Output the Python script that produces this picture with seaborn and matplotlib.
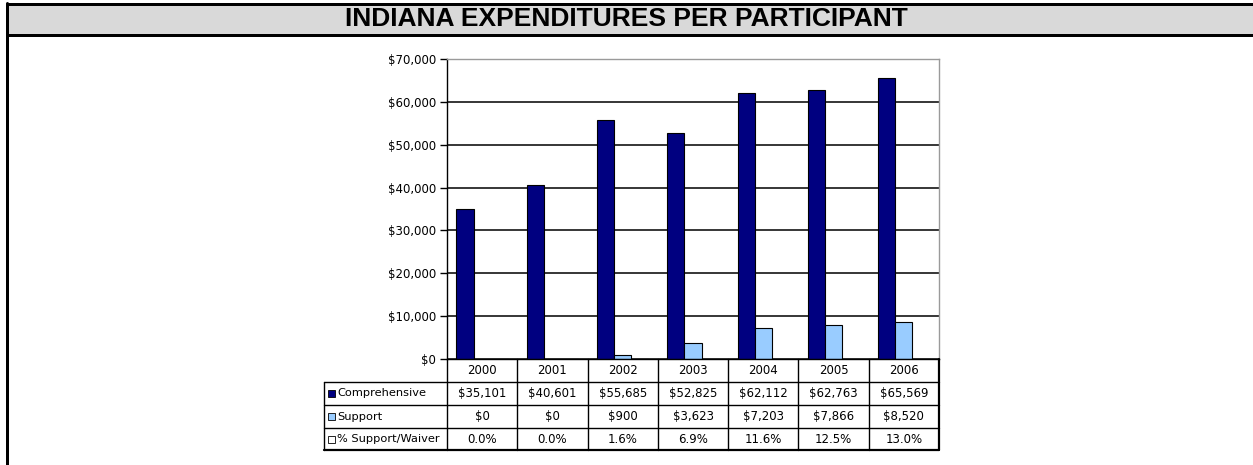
import matplotlib
matplotlib.use("Agg")
import matplotlib.pyplot as plt
import pandas as pd
import seaborn as sns
from matplotlib.lines import Line2D
from matplotlib.patches import Rectangle
from matplotlib.ticker import FuncFormatter

# ---- data ----
years = ["2000", "2001", "2002", "2003", "2004", "2005", "2006"]
series_names = ["Comprehensive", "Support", "% Support/Waiver"]
comprehensive = [35101, 40601, 55685, 52825, 62112, 62763, 65569]
support = [0, 0, 900, 3623, 7203, 7866, 8520]
support_share = [0.000, 0.000, 0.016, 0.069, 0.116, 0.125, 0.130]
y_ticks = [0, 10000, 20000, 30000, 40000, 50000, 60000, 70000]
title = "INDIANA EXPENDITURES PER PARTICIPANT"

series_colors = ["#000080", "#99CCFF", "#FFFFFF"]

df = pd.DataFrame({
    "year": years * 3,
    "series": [series_names[0]] * 7 + [series_names[1]] * 7 + [series_names[2]] * 7,
    "value": comprehensive + support + support_share,
})

# ---- figure geometry (pixels, measured from the top-left corner) ----
W, H = 1253, 465
DPI = 100
PX = 72.0 / DPI  # one pixel in points


def fx(x):
    return x / W


def fy(y):
    return 1 - y / H


plot_l, plot_r, plot_t, plot_b = 447, 939, 59, 359
row_edges = [359, 382, 405, 428, 450]
label_l = 324
FS = 8.5

sns.set_theme(style="white")
plt.rcParams["font.family"] = ["DejaVu Sans"]

fig = plt.figure(figsize=(W / DPI, H / DPI), dpi=DPI)
ax = fig.add_axes([fx(plot_l), fy(plot_b), fx(plot_r) - fx(plot_l), fy(plot_t) - fy(plot_b)])

sns.barplot(data=df, x="year", y="value", hue="series", hue_order=series_names,
            palette=series_colors, width=0.73, edgecolor="black", linewidth=0.8,
            ax=ax, legend=False, errorbar=None, saturation=1)

ax.set_xlim(-0.5, len(years) - 0.5)
ax.set_ylim(0, 70000)
ax.set_yticks(y_ticks)
ax.yaxis.set_major_formatter(FuncFormatter(lambda v, _: f"${v:,.0f}"))
ax.tick_params(axis="y", which="major", left=True, length=5, width=1, color="black",
               labelsize=FS, pad=3, labelcolor="black")
ax.tick_params(axis="x", bottom=False, labelbottom=False)
ax.set_xlabel("")
ax.set_ylabel("")
ax.yaxis.grid(True, color="black", linewidth=1.1)
ax.set_axisbelow(True)
for side in ["left", "bottom"]:
    ax.spines[side].set_color("black")
    ax.spines[side].set_linewidth(1.0)
for side in ["top", "right"]:
    ax.spines[side].set_color("#9a9a9a")
    ax.spines[side].set_linewidth(1.0)

# ---- data table under the plot ----
col_w = (plot_r - plot_l) / len(years)


def hline(x0, x1, y, width=1.0, color="black"):
    fig.add_artist(Line2D([fx(x0), fx(x1)], [fy(y), fy(y)], transform=fig.transFigure,
                          color=color, linewidth=width))


def vline(x, y0, y1, width=1.0, color="black"):
    fig.add_artist(Line2D([fx(x), fx(x)], [fy(y0), fy(y1)], transform=fig.transFigure,
                          color=color, linewidth=width))


hline(label_l, plot_r, row_edges[1])
hline(label_l, plot_r, row_edges[2])
hline(label_l, plot_r, row_edges[3])
hline(label_l, plot_r, row_edges[4], width=1.6)
vline(label_l, row_edges[1], row_edges[4])
for i in range(len(years) + 1):
    vline(plot_l + i * col_w, row_edges[0], row_edges[4], width=1.6 if i == len(years) else 1.0)

text_kw = dict(fontsize=FS, color="black", va="center")
for i, yr in enumerate(years):
    cx = plot_l + (i + 0.5) * col_w
    fig.text(fx(cx), fy((row_edges[0] + row_edges[1]) / 2), yr, ha="center", **text_kw)
    fig.text(fx(cx), fy((row_edges[1] + row_edges[2]) / 2), f"${comprehensive[i]:,}", ha="center", **text_kw)
    fig.text(fx(cx), fy((row_edges[2] + row_edges[3]) / 2), f"${support[i]:,}", ha="center", **text_kw)
    fig.text(fx(cx), fy((row_edges[3] + row_edges[4]) / 2), f"{support_share[i] * 100:.1f}%", ha="center", **text_kw)

for r, name in enumerate(series_names):
    yc = (row_edges[r + 1] + row_edges[r + 2]) / 2
    fig.add_artist(Rectangle((fx(label_l + 4), fy(yc + 3.5)), fx(7), 7 / H, transform=fig.transFigure,
                             facecolor=series_colors[r], edgecolor="black", linewidth=0.6))
    fig.text(fx(label_l + 13), fy(yc), name, ha="left", fontsize=8.2, color="black", va="center")

# ---- page frame and title band ----
fig.add_artist(Rectangle((fx(7), fy(35)), fx(W - 7), 31 / H, transform=fig.transFigure,
                         facecolor="#D9D9D9", edgecolor="none"))
hline(7, W, 4, width=3 * PX)
hline(7, W, 35, width=3 * PX)
vline(7, 3, H, width=3 * PX)
fig.text(fx(W / 2), fy(19.5), title, ha="center", va="center", fontsize=19,
         fontweight="bold", family=["Liberation Sans", "DejaVu Sans"], color="black")

fig.savefig("out.png", dpi=DPI, facecolor="white")
